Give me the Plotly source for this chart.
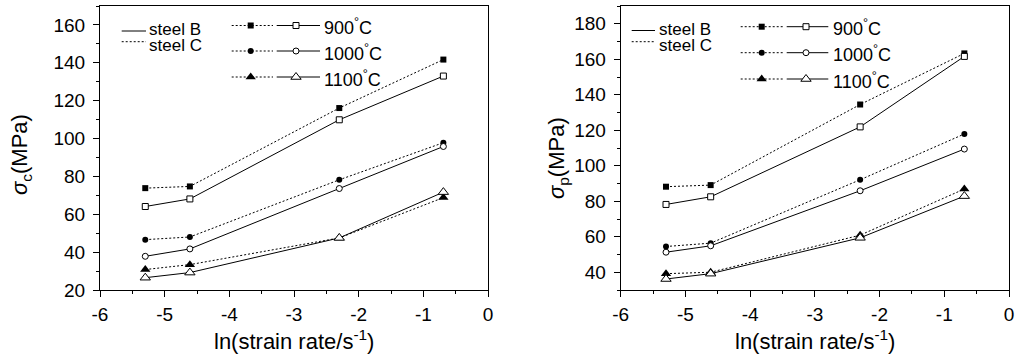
import plotly.graph_objects as go

# ---------------- data ----------------
ln_rate = [-5.30, -4.61, -2.30, -0.69]
temps = ["900", "1000", "1100"]

# left panel: critical stress sigma_c (MPa)
sc_B900 = [64.1, 68.1, 109.9, 133.0]
sc_C900 = [73.8, 74.7, 116.1, 141.7]
sc_B1000 = [37.8, 41.7, 73.6, 95.8]
sc_C1000 = [46.6, 48.0, 78.2, 97.8]
sc_B1100 = [26.5, 29.2, 47.5, 71.7]
sc_C1100 = [30.8, 33.4, 47.5, 68.8]

# right panel: peak stress sigma_p (MPa)
sp_B900 = [78.2, 82.5, 121.9, 161.6]
sp_C900 = [88.2, 89.1, 134.5, 163.3]
sp_B1000 = [51.3, 54.9, 85.9, 109.4]
sp_C1000 = [54.5, 56.4, 92.1, 117.9]
sp_B1100 = [36.2, 39.2, 59.4, 82.9]
sp_C1100 = [39.2, 40.0, 60.9, 86.9]

x_ticks = [-6, -5, -4, -3, -2, -1, 0]
x_ticktext = ["-6", "-5", "-4", "-3", "-2", "-1", "0"]
left_range = [20, 170]
right_range = [30, 190]

# ---------------- style ----------------
W, H = 1016, 358
FONT = "Liberation Sans, Arial, sans-serif"
symbols = {"900": "square", "1000": "circle", "1100": "triangle-up"}
sizes = {"900": 6, "1000": 6, "1100": 9}
DOT = "2px,2px"

fig = go.Figure()

def add_series(xa, ya, yB, yC, t):
    sym = symbols[t]
    sz = sizes[t]
    fig.add_trace(go.Scatter(
        x=ln_rate, y=yC, xaxis=xa, yaxis=ya, mode="lines+markers",
        line=dict(color="black", width=1, dash=DOT),
        marker=dict(symbol=sym, size=sz, color="black", line=dict(width=0)),
        showlegend=False, cliponaxis=False))
    fig.add_trace(go.Scatter(
        x=ln_rate, y=yB, xaxis=xa, yaxis=ya, mode="lines+markers",
        line=dict(color="black", width=1),
        marker=dict(symbol=sym, size=sz, color="white", line=dict(color="black", width=1)),
        showlegend=False, cliponaxis=False))

left = {"900": (sc_B900, sc_C900), "1000": (sc_B1000, sc_C1000), "1100": (sc_B1100, sc_C1100)}
right = {"900": (sp_B900, sp_C900), "1000": (sp_B1000, sp_C1000), "1100": (sp_B1100, sp_C1100)}
for t in temps:
    add_series("x", "y", left[t][0], left[t][1], t)
for t in temps:
    add_series("x2", "y2", right[t][0], right[t][1], t)

# ---------------- legends (drawn on a pixel overlay axis) ----------------
legend_cfg = [
    dict(sx0=121.7, sx1=146, stx=147, sy=(31, 41.7), sty=(29.5, 45.5),
         dx0=231.7, dx1=273, fmx=250.7, ox0=276.7, ox1=320, omx=296, tx=321.7, rows=(25.5, 51, 77)),
    dict(sx0=631.7, sx1=655, stx=657.3, sy=(30.5, 41.7), sty=(29.5, 45.5),
         dx0=740.7, dx1=783.3, fmx=761.7, ox0=786.7, ox1=828.3, omx=806, tx=830.7, rows=(26.7, 52.7, 79)),
]
annotations = []
for c in legend_cfg:
    fig.add_trace(go.Scatter(x=[c["sx0"], c["sx1"]], y=[c["sy"][0]] * 2, xaxis="x3", yaxis="y3",
                             mode="lines", line=dict(color="black", width=1), showlegend=False, hoverinfo="skip"))
    fig.add_trace(go.Scatter(x=[c["sx0"], c["sx1"]], y=[c["sy"][1]] * 2, xaxis="x3", yaxis="y3",
                             mode="lines", line=dict(color="black", width=1, dash=DOT), showlegend=False, hoverinfo="skip"))
    annotations.append(dict(x=c["stx"], y=c["sty"][0], xref="x3", yref="y3", text="steel B", showarrow=False,
                            xanchor="left", yanchor="middle", font=dict(family=FONT, size=17, color="black")))
    annotations.append(dict(x=c["stx"], y=c["sty"][1], xref="x3", yref="y3", text="steel C", showarrow=False,
                            xanchor="left", yanchor="middle", font=dict(family=FONT, size=17, color="black")))
    for t, ry in zip(temps, c["rows"]):
        fig.add_trace(go.Scatter(x=[c["dx0"], c["dx1"]], y=[ry] * 2, xaxis="x3", yaxis="y3",
                                 mode="lines", line=dict(color="black", width=1, dash=DOT),
                                 showlegend=False, hoverinfo="skip"))
        fig.add_trace(go.Scatter(x=[c["fmx"]], y=[ry], xaxis="x3", yaxis="y3", mode="markers",
                                 marker=dict(symbol=symbols[t], size=sizes[t], color="black", line=dict(width=0)),
                                 showlegend=False, hoverinfo="skip"))
        fig.add_trace(go.Scatter(x=[c["ox0"], c["ox1"]], y=[ry] * 2, xaxis="x3", yaxis="y3",
                                 mode="lines", line=dict(color="black", width=1),
                                 showlegend=False, hoverinfo="skip"))
        fig.add_trace(go.Scatter(x=[c["omx"]], y=[ry], xaxis="x3", yaxis="y3", mode="markers",
                                 marker=dict(symbol=symbols[t], size=sizes[t], color="white",
                                             line=dict(color="black", width=1)),
                                 showlegend=False, hoverinfo="skip"))
        annotations.append(dict(x=c["tx"], y=ry + 1, xref="x3", yref="y3", text=t + "<sup>°</sup>C",
                                showarrow=False, xanchor="left", yanchor="middle",
                                font=dict(family=FONT, size=18, color="black")))

# ---------------- axis titles ----------------
title_font = dict(family=FONT, size=22, color="black")
annotations += [
    dict(x=294, y=340, xref="x3", yref="y3", text="ln(strain rate/s<sup>-1</sup>)", showarrow=False,
         xanchor="center", yanchor="middle", font=title_font),
    dict(x=814.8, y=340, xref="x3", yref="y3", text="ln(strain rate/s<sup>-1</sup>)", showarrow=False,
         xanchor="center", yanchor="middle", font=title_font),
    dict(x=21, y=155, xref="x3", yref="y3", text="<i>σ</i><sub>c</sub>(MPa)", showarrow=False,
         textangle=-90, xanchor="center", yanchor="middle", font=title_font),
    dict(x=558, y=158, xref="x3", yref="y3", text="<i>σ</i><sub>p</sub>(MPa)", showarrow=False,
         textangle=-90, xanchor="center", yanchor="middle", font=title_font),
]

tick_font = dict(family=FONT, size=19, color="black")

def xax(domain):
    return dict(domain=domain, range=[-6, 0], tickmode="array", tickvals=x_ticks, ticktext=x_ticktext,
                ticks="outside", ticklen=6, tickwidth=1,
                tickcolor="black", minor=dict(dtick=0.5, tick0=0, ticks="outside", ticklen=3, tickcolor="black"),
                showline=True, linecolor="black", linewidth=1, mirror=True, showgrid=False, zeroline=False,
                tickfont=tick_font, automargin=False, fixedrange=True, ticklabelstandoff=1)

def yax(domain, rng, tick0, anchor):
    return dict(domain=domain, range=rng, tick0=tick0, dtick=20, ticks="outside", ticklen=6, tickwidth=1,
                tickcolor="black", minor=dict(dtick=10, tick0=tick0, ticks="outside", ticklen=3, tickcolor="black"),
                showline=True, linecolor="black", linewidth=1, mirror=True, showgrid=False, zeroline=False,
                tickfont=tick_font, automargin=False, anchor=anchor, fixedrange=True, ticklabelstandoff=4)

ydom = [(H - 290) / H, (H - 6) / H]
fig.update_layout(
    width=W, height=H, margin=dict(l=0, r=0, t=0, b=0, pad=0),
    paper_bgcolor="white", plot_bgcolor="rgba(0,0,0,0)",
    font=dict(family=FONT, color="black"),
    xaxis=dict(**xax([100 / W, 488 / W]), anchor="y"),
    yaxis=yax(ydom, left_range, 20, "x"),
    xaxis2=dict(**xax([620.7 / W, 1009 / W]), anchor="y2"),
    yaxis2=yax(ydom, right_range, 40, "x2"),
    xaxis3=dict(domain=[0, 1], range=[0, W], visible=False, anchor="y3", fixedrange=True),
    yaxis3=dict(domain=[0, 1], range=[H, 0], visible=False, anchor="x3", fixedrange=True),
    annotations=annotations,
    showlegend=False,
)

fig.write_html("out.html", config={"displayModeBar": False},
               post_script="document.body.style.margin='0px';")
